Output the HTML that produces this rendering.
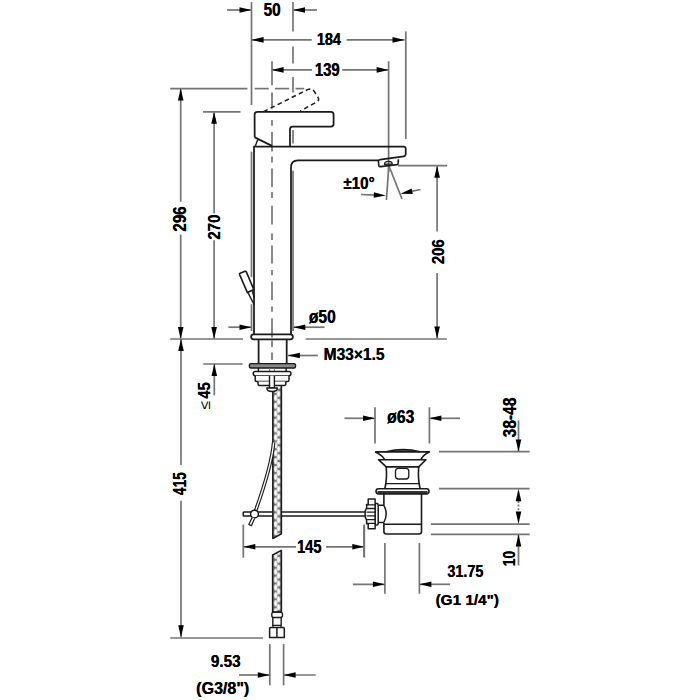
<!DOCTYPE html>
<html><head><meta charset="utf-8"><style>
html,body{margin:0;padding:0;background:#fff;}
svg{display:block;}
text{font-family:"Liberation Sans",sans-serif;fill:#000;}
</style></head><body>
<svg width="700" height="700" viewBox="0 0 700 700">
<rect width="700" height="700" fill="#fff"/>
<line x1="227" y1="10" x2="251.5" y2="10" stroke="#747474" stroke-width="1.7" />
<path d="M251.50,10.00 L239.50,12.80 L239.50,7.20 Z" fill="#000"/>
<line x1="317" y1="10" x2="293" y2="10" stroke="#747474" stroke-width="1.7" />
<path d="M293.00,10.00 L305.00,7.20 L305.00,12.80 Z" fill="#000"/>
<text transform="translate(263.76,15.82) scale(0.8669,1)" font-size="17.75" font-weight="bold">50</text>
<text transform="translate(263.51,15.82) scale(0.8669,1)" font-size="17.75" font-weight="bold">50</text>
<line x1="251.5" y1="2" x2="251.5" y2="105" stroke="#747474" stroke-width="1.7" />
<line x1="251.5" y1="151.7" x2="251.5" y2="277.2" stroke="#747474" stroke-width="1.7" />
<line x1="251.5" y1="304.2" x2="251.5" y2="331" stroke="#747474" stroke-width="1.7" />
<line x1="293" y1="2" x2="293" y2="31.4" stroke="#747474" stroke-width="1.7" />
<line x1="293" y1="46.4" x2="293" y2="63.6" stroke="#747474" stroke-width="1.7" />
<line x1="293" y1="77" x2="293" y2="92.5" stroke="#747474" stroke-width="1.7" />
<line x1="293" y1="130" x2="293" y2="143.6" stroke="#747474" stroke-width="1.7" />
<line x1="293" y1="170.7" x2="293" y2="331" stroke="#747474" stroke-width="1.7" />
<line x1="251.6" y1="39.9" x2="311.7" y2="39.9" stroke="#747474" stroke-width="1.7" />
<line x1="346.6" y1="39.9" x2="404.5" y2="39.9" stroke="#747474" stroke-width="1.7" />
<path d="M251.60,39.90 L263.60,37.10 L263.60,42.70 Z" fill="#000"/>
<path d="M404.50,39.90 L392.50,42.70 L392.50,37.10 Z" fill="#000"/>
<text transform="translate(316.95,45.23) scale(0.8370,1)" font-size="17.32" font-weight="bold">184</text>
<text transform="translate(316.70,45.23) scale(0.8370,1)" font-size="17.32" font-weight="bold">184</text>
<line x1="405.8" y1="31.4" x2="405.8" y2="139" stroke="#747474" stroke-width="1.7" />
<line x1="271.6" y1="69.9" x2="312" y2="69.9" stroke="#747474" stroke-width="1.7" />
<line x1="342.3" y1="69.9" x2="388.6" y2="69.9" stroke="#747474" stroke-width="1.7" />
<path d="M271.60,69.90 L283.60,67.10 L283.60,72.70 Z" fill="#000"/>
<path d="M388.60,69.90 L376.60,72.70 L376.60,67.10 Z" fill="#000"/>
<text transform="translate(314.93,75.82) scale(0.8399,1)" font-size="17.75" font-weight="bold">139</text>
<text transform="translate(314.68,75.82) scale(0.8399,1)" font-size="17.75" font-weight="bold">139</text>
<line x1="272" y1="61.2" x2="272" y2="85.2" stroke="#747474" stroke-width="1.7" />
<line x1="388.6" y1="61.2" x2="388.6" y2="172" stroke="#747474" stroke-width="1.7" />
<line x1="272" y1="92.5" x2="272" y2="108.5" stroke="#747474" stroke-width="1.7" />
<line x1="272" y1="120" x2="272" y2="125.7" stroke="#747474" stroke-width="1.7" />
<line x1="272" y1="132" x2="272" y2="151.5" stroke="#747474" stroke-width="1.7" />
<line x1="272" y1="156.5" x2="272" y2="162.5" stroke="#747474" stroke-width="1.7" />
<line x1="272" y1="168.6" x2="272" y2="187.1" stroke="#747474" stroke-width="1.7" />
<line x1="272" y1="192.1" x2="272" y2="197.9" stroke="#747474" stroke-width="1.7" />
<line x1="272" y1="205.7" x2="272" y2="224.5" stroke="#747474" stroke-width="1.7" />
<line x1="272" y1="233.6" x2="272" y2="240" stroke="#747474" stroke-width="1.7" />
<line x1="272" y1="245.4" x2="272" y2="263.6" stroke="#747474" stroke-width="1.7" />
<line x1="272" y1="270" x2="272" y2="275.3" stroke="#747474" stroke-width="1.7" />
<line x1="272" y1="281.8" x2="272" y2="300" stroke="#747474" stroke-width="1.7" />
<line x1="272" y1="306.4" x2="272" y2="311.7" stroke="#747474" stroke-width="1.7" />
<line x1="272" y1="318.2" x2="272" y2="337.4" stroke="#747474" stroke-width="1.7" />
<line x1="272" y1="340.6" x2="272" y2="347" stroke="#747474" stroke-width="1.7" />
<line x1="272" y1="352.4" x2="272" y2="360" stroke="#747474" stroke-width="1.7" />
<line x1="170.2" y1="88.6" x2="247.4" y2="88.6" stroke="#747474" stroke-width="1.7" />
<line x1="254.7" y1="88.6" x2="268.8" y2="88.6" stroke="#747474" stroke-width="1.7" />
<line x1="274.9" y1="88.6" x2="289.1" y2="88.6" stroke="#747474" stroke-width="1.7" />
<line x1="295.5" y1="88.6" x2="304.2" y2="88.6" stroke="#747474" stroke-width="1.7" />
<line x1="180.7" y1="88.6" x2="180.7" y2="201.8" stroke="#747474" stroke-width="1.7" />
<line x1="180.7" y1="234.6" x2="180.7" y2="339" stroke="#747474" stroke-width="1.7" />
<path d="M180.70,88.60 L183.50,100.60 L177.90,100.60 Z" fill="#000"/>
<path d="M180.70,339.00 L177.90,327.00 L183.50,327.00 Z" fill="#000"/>
<text transform="translate(186.03,231.53) rotate(-90) scale(0.8696,1)" font-size="17.46" font-weight="bold">296</text>
<text transform="translate(186.03,231.78) rotate(-90) scale(0.8696,1)" font-size="17.46" font-weight="bold">296</text>
<line x1="214.1" y1="111.8" x2="214.1" y2="213.3" stroke="#747474" stroke-width="1.7" />
<line x1="214.1" y1="240.2" x2="214.1" y2="339" stroke="#747474" stroke-width="1.7" />
<path d="M214.10,111.80 L216.90,123.80 L211.30,123.80 Z" fill="#000"/>
<path d="M214.10,339.00 L211.30,327.00 L216.90,327.00 Z" fill="#000"/>
<text transform="translate(220.13,239.53) rotate(-90) scale(0.8766,1)" font-size="17.18" font-weight="bold">270</text>
<text transform="translate(220.13,239.78) rotate(-90) scale(0.8766,1)" font-size="17.18" font-weight="bold">270</text>
<line x1="203" y1="111.8" x2="240.5" y2="111.8" stroke="#747474" stroke-width="1.7" />
<line x1="170.2" y1="339" x2="243" y2="339" stroke="#747474" stroke-width="1.7" />
<line x1="305.7" y1="339" x2="447" y2="339" stroke="#747474" stroke-width="1.7" />
<line x1="437.1" y1="165.7" x2="437.1" y2="231.4" stroke="#747474" stroke-width="1.7" />
<line x1="437.1" y1="272.9" x2="437.1" y2="338.6" stroke="#747474" stroke-width="1.7" />
<path d="M437.10,165.70 L439.90,177.70 L434.30,177.70 Z" fill="#000"/>
<path d="M437.10,338.60 L434.30,326.60 L439.90,326.60 Z" fill="#000"/>
<text transform="translate(443.83,264.02) rotate(-90) scale(0.8728,1)" font-size="17.04" font-weight="bold">206</text>
<text transform="translate(443.83,264.27) rotate(-90) scale(0.8728,1)" font-size="17.04" font-weight="bold">206</text>
<line x1="398" y1="165.6" x2="447" y2="165.6" stroke="#747474" stroke-width="1.7" />
<line x1="388.8" y1="166" x2="386.4" y2="200" stroke="#747474" stroke-width="1.7" />
<line x1="389" y1="166" x2="402" y2="199" stroke="#747474" stroke-width="1.7" />
<line x1="361" y1="194.5" x2="376" y2="195.1" stroke="#747474" stroke-width="1.7" />
<path d="M385.80,195.60 L373.69,197.86 L373.94,192.26 Z" fill="#000"/>
<line x1="420.5" y1="189.5" x2="410" y2="191.7" stroke="#747474" stroke-width="1.7" />
<path d="M400.50,193.80 L411.64,188.54 L412.82,194.02 Z" fill="#000"/>
<text transform="translate(343.52,188.73) scale(0.8964,1)" font-size="16.90" font-weight="bold">±10°</text>
<text transform="translate(343.27,188.73) scale(0.8964,1)" font-size="16.90" font-weight="bold">±10°</text>
<line x1="228.4" y1="327.2" x2="251.5" y2="327.2" stroke="#747474" stroke-width="1.7" />
<path d="M251.50,327.20 L239.50,330.00 L239.50,324.40 Z" fill="#000"/>
<line x1="324.6" y1="327.2" x2="293.3" y2="327.2" stroke="#747474" stroke-width="1.7" />
<path d="M293.30,327.20 L305.30,324.40 L305.30,330.00 Z" fill="#000"/>
<text transform="translate(309.07,322.95) scale(0.8896,1)" font-size="17.50" font-weight="bold">ø50</text>
<text transform="translate(308.82,322.95) scale(0.8896,1)" font-size="17.50" font-weight="bold">ø50</text>
<line x1="317.9" y1="355.5" x2="287.9" y2="355.5" stroke="#747474" stroke-width="1.7" />
<path d="M287.90,355.50 L299.90,352.70 L299.90,358.30 Z" fill="#000"/>
<text transform="translate(323.74,360.43) scale(0.9200,1)" font-size="16.90" font-weight="bold">M33×1.5</text>
<text transform="translate(323.49,360.43) scale(0.9200,1)" font-size="16.90" font-weight="bold">M33×1.5</text>
<line x1="203.3" y1="364" x2="242.7" y2="364" stroke="#747474" stroke-width="1.7" />
<line x1="214.3" y1="364" x2="214.3" y2="395.3" stroke="#747474" stroke-width="1.7" />
<path d="M214.30,364.00 L217.10,376.00 L211.50,376.00 Z" fill="#000"/>
<text transform="translate(209.93,398.47) rotate(-90) scale(0.8530,1)" font-size="17.14" font-weight="bold">45</text>
<text transform="translate(209.93,398.72) rotate(-90) scale(0.8530,1)" font-size="17.14" font-weight="bold">45</text>
<text transform="translate(210.10,409.87) rotate(-90) scale(1.0476,1)" font-size="15.00" font-weight="normal">≤</text>
<line x1="181" y1="339" x2="181" y2="465" stroke="#747474" stroke-width="1.7" />
<line x1="181" y1="500.7" x2="181" y2="637.3" stroke="#747474" stroke-width="1.7" />
<path d="M181.00,339.00 L183.80,351.00 L178.20,351.00 Z" fill="#000"/>
<path d="M181.00,637.30 L178.20,625.30 L183.80,625.30 Z" fill="#000"/>
<text transform="translate(185.93,494.95) rotate(-90) scale(0.7827,1)" font-size="17.43" font-weight="bold">415</text>
<text transform="translate(185.93,495.20) rotate(-90) scale(0.7827,1)" font-size="17.43" font-weight="bold">415</text>
<line x1="170.3" y1="638" x2="263" y2="638" stroke="#747474" stroke-width="1.7" />
<line x1="243.3" y1="546.8" x2="296" y2="546.8" stroke="#747474" stroke-width="1.7" />
<line x1="326" y1="546.8" x2="364.3" y2="546.8" stroke="#747474" stroke-width="1.7" />
<path d="M243.30,546.80 L255.30,544.00 L255.30,549.60 Z" fill="#000"/>
<path d="M364.30,546.80 L352.30,549.60 L352.30,544.00 Z" fill="#000"/>
<text transform="translate(297.25,552.72) scale(0.8122,1)" font-size="18.00" font-weight="bold">145</text>
<text transform="translate(297.00,552.72) scale(0.8122,1)" font-size="18.00" font-weight="bold">145</text>
<line x1="243.3" y1="524.5" x2="243.3" y2="557.7" stroke="#747474" stroke-width="1.7" />
<line x1="364.3" y1="524.5" x2="364.3" y2="557.7" stroke="#747474" stroke-width="1.7" />
<line x1="269.8" y1="644.1" x2="269.8" y2="685.3" stroke="#747474" stroke-width="1.7" />
<line x1="283.6" y1="644.1" x2="283.6" y2="685.3" stroke="#747474" stroke-width="1.7" />
<line x1="239" y1="675" x2="269.8" y2="675" stroke="#747474" stroke-width="1.7" />
<path d="M269.80,675.00 L257.80,677.80 L257.80,672.20 Z" fill="#000"/>
<line x1="315.7" y1="675" x2="283.6" y2="675" stroke="#747474" stroke-width="1.7" />
<path d="M283.60,675.00 L295.60,672.20 L295.60,677.80 Z" fill="#000"/>
<text transform="translate(211.02,667.33) scale(0.9017,1)" font-size="16.90" font-weight="bold">9.53</text>
<text transform="translate(210.77,667.33) scale(0.9017,1)" font-size="16.90" font-weight="bold">9.53</text>
<text transform="translate(196.32,694.15) scale(1.0054,1)" font-size="15.96" font-weight="bold">(G3/8&quot;)</text>
<text transform="translate(196.07,694.15) scale(1.0054,1)" font-size="15.96" font-weight="bold">(G3/8&quot;)</text>
<line x1="344.5" y1="418.3" x2="375" y2="418.3" stroke="#747474" stroke-width="1.7" />
<path d="M375.00,418.30 L363.00,421.10 L363.00,415.50 Z" fill="#000"/>
<line x1="460" y1="418.3" x2="429.4" y2="418.3" stroke="#747474" stroke-width="1.7" />
<path d="M429.40,418.30 L441.40,415.50 L441.40,421.10 Z" fill="#000"/>
<line x1="375" y1="407.3" x2="375" y2="443.5" stroke="#747474" stroke-width="1.7" />
<line x1="429.4" y1="407.3" x2="429.4" y2="443.5" stroke="#747474" stroke-width="1.7" />
<text transform="translate(387.37,422.95) scale(0.8946,1)" font-size="17.50" font-weight="bold">ø63</text>
<text transform="translate(387.12,422.95) scale(0.8946,1)" font-size="17.50" font-weight="bold">ø63</text>
<line x1="438.9" y1="451.6" x2="529.7" y2="451.6" stroke="#747474" stroke-width="1.7" />
<line x1="438.9" y1="488.7" x2="529.7" y2="488.7" stroke="#747474" stroke-width="1.7" />
<line x1="430.9" y1="524.1" x2="529.7" y2="524.1" stroke="#747474" stroke-width="1.7" />
<line x1="430.9" y1="534.4" x2="529.7" y2="534.4" stroke="#747474" stroke-width="1.7" />
<line x1="518.5" y1="420.5" x2="518.5" y2="451.3" stroke="#747474" stroke-width="1.7" />
<path d="M518.50,451.50 L515.70,439.50 L521.30,439.50 Z" fill="#000"/>
<text transform="translate(515.82,437.19) rotate(-90) scale(0.8486,1)" font-size="18.31" font-weight="bold">38-48</text>
<text transform="translate(515.82,437.44) rotate(-90) scale(0.8486,1)" font-size="18.31" font-weight="bold">38-48</text>
<line x1="518.5" y1="501" x2="518.5" y2="511.5" stroke="#747474" stroke-width="1.7" stroke-dasharray="2 1.6"/>
<path d="M518.50,488.70 L521.30,501.20 L515.70,501.20 Z" fill="#000"/>
<path d="M518.50,524.10 L515.70,511.60 L521.30,511.60 Z" fill="#000"/>
<line x1="518.5" y1="534.4" x2="518.5" y2="565.5" stroke="#747474" stroke-width="1.7" />
<path d="M518.50,534.40 L521.30,546.40 L515.70,546.40 Z" fill="#000"/>
<text transform="translate(514.73,566.22) rotate(-90) scale(0.8388,1)" font-size="16.76" font-weight="bold">10</text>
<text transform="translate(514.73,566.47) rotate(-90) scale(0.8388,1)" font-size="16.76" font-weight="bold">10</text>
<line x1="384.9" y1="542.9" x2="384.9" y2="593.7" stroke="#747474" stroke-width="1.7" />
<line x1="419.4" y1="542.9" x2="419.4" y2="593.7" stroke="#747474" stroke-width="1.7" />
<line x1="352.9" y1="584.3" x2="384.9" y2="584.3" stroke="#747474" stroke-width="1.7" />
<path d="M384.90,584.30 L372.90,587.10 L372.90,581.50 Z" fill="#000"/>
<line x1="450" y1="584.3" x2="419.4" y2="584.3" stroke="#747474" stroke-width="1.7" />
<path d="M419.40,584.30 L431.40,581.50 L431.40,587.10 Z" fill="#000"/>
<text transform="translate(447.54,577.13) scale(0.8659,1)" font-size="16.62" font-weight="bold">31.75</text>
<text transform="translate(447.29,577.13) scale(0.8659,1)" font-size="16.62" font-weight="bold">31.75</text>
<text transform="translate(435.76,605.16) scale(0.9901,1)" font-size="15.43" font-weight="bold">(G1 1/4&quot;)</text>
<text transform="translate(435.51,605.16) scale(0.9901,1)" font-size="15.43" font-weight="bold">(G1 1/4&quot;)</text>
<line x1="364" y1="525" x2="364" y2="557" stroke="#747474" stroke-width="1.7" />
<path d="M254.7,137.4 L254.6,114.5 Q254.6,111.8 257.4,111.8 L331,111.8 Q333.6,111.8 333.6,114.5 L333.6,124 Q333.6,126.6 331,126.6 L292.6,126.6 Q290,126.6 290,129.2 L290,146.6" stroke="#1a1a1a" stroke-width="1.75" fill="none" stroke-linejoin="round" />
<path d="M254.7,137.4 L272,145.9" stroke="#1a1a1a" stroke-width="1.75" fill="none" stroke-linejoin="round" />
<path d="M257.7,139.7 L255.1,146.6" stroke="#1a1a1a" stroke-width="1.4" fill="none" stroke-linejoin="round" />
<path d="M254,334.3 L254,146.5 L403.6,146.5 Q405.7,146.5 405.7,148.6 L405.7,154.3 Q405.7,156 403.8,156.3 L380,159.7 L378.4,160.3 L298,160.3 Q291,160.3 291,167.3 L291,334.3" stroke="#1a1a1a" stroke-width="1.75" fill="none" stroke-linejoin="round" />
<path d="M378.4,160.3 L378.7,165 Q378.8,166.8 380.6,166.6 L397,164.6 Q398.2,164.4 398.2,163.2 L398.4,159.3" stroke="#1a1a1a" stroke-width="1.6" fill="none" stroke-linejoin="round" />
<path d="M384.5,164.4 Q384.5,161.4 388.3,161.4 Q392.2,161.4 392.2,164 Z" stroke="#1a1a1a" stroke-width="1.3" fill="none" stroke-linejoin="round" />
<path d="M263.5,111.7 L307.6,89.6 Q311.6,87.6 314,91.2 L317.8,96.8 Q320,100.4 316.4,102 L300,111.3" stroke="#1a1a1a" stroke-width="1.5" fill="none" stroke-linejoin="round" stroke-dasharray="4.6 3.3"/>
<path d="M239.6,274.6 Q239.2,273.6 240.2,273.2 L245,271.3 Q245.9,271 246.3,271.9 L253.9,289.6 L247.4,292.6 Z" stroke="#1a1a1a" stroke-width="1.6" fill="#fff" stroke-linejoin="round" />
<path d="M247.8,292.4 L254.2,304.8 M252.3,291.2 L254.2,297.5" stroke="#1a1a1a" stroke-width="1.4" fill="none" stroke-linejoin="round" />
<path d="M253.6,334.3 L290.4,334.3 Q292.9,334.3 292.9,336.8 Q292.9,339.3 290.4,339.3 L253.6,339.3 Q251.1,339.3 251.1,336.8 Q251.1,334.3 253.6,334.3 Z" stroke="#1a1a1a" stroke-width="1.75" fill="none" stroke-linejoin="round" />
<path d="M258.6,339.3 L258.6,363.6 M286.7,339.3 L286.7,363.6" stroke="#1a1a1a" stroke-width="1.75" fill="none" stroke-linejoin="round" />
<path d="M251,363.6 L294,363.6 Q295.6,363.6 295.6,365.8 Q295.6,368 294,368 L251,368 Q249.3,368 249.3,365.8 Q249.3,363.6 251,363.6 Z" stroke="#1a1a1a" stroke-width="1.3" fill="#888" stroke-linejoin="round" />
<path d="M258.4,368 L258.4,371.4 M286.2,368 L286.2,371.4" stroke="#1a1a1a" stroke-width="1.5" fill="none" stroke-linejoin="round" />
<path d="M269.6,368 L269.6,371.4 M274.3,368 L274.3,371.4" stroke="#777" stroke-width="1.1" fill="none" stroke-linejoin="round" />
<path d="M255.3,371.4 L288.9,371.4 Q291,371.4 291,373.55 Q291,375.7 288.9,375.7 L255.3,375.7 Q253.2,375.7 253.2,373.55 Q253.2,371.4 255.3,371.4 Z" stroke="#1a1a1a" stroke-width="1.5" fill="#fff" stroke-linejoin="round" />
<path d="M255.2,375.7 L255.2,380 Q255.2,381.6 256.8,381.6 L287.4,381.6 Q289,381.6 289,380 L289,375.7" stroke="#1a1a1a" stroke-width="1.5" fill="#fff" stroke-linejoin="round" />
<path d="M258,381.6 L258,384 Q258,385.5 259.5,385.5 L284.3,385.5 Q285.8,385.5 285.8,384 L285.8,381.6" stroke="#1a1a1a" stroke-width="1.5" fill="#fff" stroke-linejoin="round" />
<path d="M269.5,375.7 L269.5,388 L274.4,388 L274.4,375.7" stroke="#1a1a1a" stroke-width="1.4" fill="#fff" stroke-linejoin="round" />
<defs><pattern id="braid" patternUnits="userSpaceOnUse" x="272.7" y="386" width="8.8" height="7.9"><rect width="8.8" height="7.9" fill="#777"/><ellipse cx="2.9" cy="3.95" rx="1.65" ry="2.9" fill="#fff"/><ellipse cx="5.9" cy="0" rx="1.65" ry="2.9" fill="#fff"/><ellipse cx="5.9" cy="7.9" rx="1.65" ry="2.9" fill="#fff"/></pattern></defs>
<path d="M365.3,511.9 L244,511.9 Q243.2,511.9 243.2,512.7 L243.2,515.3 Q243.2,516.1 244,516.1 L365.3,516.1" stroke="#1a1a1a" stroke-width="1.5" fill="none" stroke-linejoin="round" />
<path d="M272.8,391 L272.8,538.5 L281.4,533.8 L281.4,385.9" stroke="#1a1a1a" stroke-width="1.5" fill="url(#braid)" stroke-linejoin="round" />
<path d="M266.8,388 L277.4,388 Q277.4,391.5 272.1,391.5 Q266.8,391.5 266.8,388 Z" stroke="#1a1a1a" stroke-width="1.4" fill="#fff" stroke-linejoin="round" />
<path d="M272.6,555 L281.4,550.3 L281.4,612.1 L272.6,612.1 Z" stroke="#1a1a1a" stroke-width="1.5" fill="url(#braid)" stroke-linejoin="round" />
<path d="M273.6,442.6 C272,462 263,490 255.5,511" stroke="#1a1a1a" stroke-width="3.6" fill="none" stroke-linejoin="round" />
<path d="M273.6,442.6 C272,462 263,490 255.5,511" stroke="#fff" stroke-width="1.3" fill="none" stroke-linejoin="round" />
<circle cx="254.5" cy="514.1" r="3.9" fill="#fff" stroke="#111" stroke-width="1.4"/>
<path d="M252.3,517.2 L248.8,524.4 L251.4,525.8 L254.6,518.4" stroke="#1a1a1a" stroke-width="1.2" fill="#fff" stroke-linejoin="round" />
<path d="M273.6,612.1 L280.4,612.1 Q282.5,612.1 282.5,614.2 L282.5,615.4 Q282.5,617.5 280.4,617.5 L273.6,617.5 Q271.8,617.5 271.8,615.4 L271.8,614.2 Q271.8,612.1 273.6,612.1 Z" stroke="#1a1a1a" stroke-width="1.4" fill="none" stroke-linejoin="round" />
<path d="M272.8,617.5 L272.8,625.4 L281.2,625.4 L281.2,617.5" stroke="#1a1a1a" stroke-width="1.4" fill="none" stroke-linejoin="round" />
<path d="M273,625.4 L273,627.5 M281,625.4 L281,627.5" stroke="#1a1a1a" stroke-width="1.2" fill="none" stroke-linejoin="round" />
<path d="M270.8,627.5 L283.2,627.5 Q284.3,627.5 284.3,628.6 L284.3,637.5 L269.6,637.5 L269.6,628.6 Q269.6,627.5 270.8,627.5 Z M276.9,627.5 L276.9,637.5" stroke="#1a1a1a" stroke-width="1.5" fill="none" stroke-linejoin="round" />
<path d="M386.2,451.8 Q403,447.4 420.1,451.8" stroke="#1a1a1a" stroke-width="1.5" fill="#555" stroke-linejoin="round" />
<path d="M375.1,451.9 L429.4,451.9 Q424,454 421.1,459 M375.1,451.9 Q381,454 384.4,459" stroke="#1a1a1a" stroke-width="1.6" fill="none" stroke-linejoin="round" />
<path d="M378.5,459.7 L425.9,459.7 L418.7,466.9 L386.2,466.9 Z" stroke="#1a1a1a" stroke-width="1.6" fill="none" stroke-linejoin="round" />
<path d="M386.2,466.9 Q387.2,479 384.9,488.5 M418.7,466.9 Q417.7,479 420.1,488.5" stroke="#1a1a1a" stroke-width="1.6" fill="none" stroke-linejoin="round" />
<path d="M385.2,483.6 L420,483.6" stroke="#1a1a1a" stroke-width="1.4" fill="none" stroke-linejoin="round" />
<path d="M398.5,468.3 L405.8,468.3 Q408.8,468.3 408.8,471.3 L408.8,476 Q408.8,479 405.8,479 L398.5,479 Q395.5,479 395.5,476 L395.5,471.3 Q395.5,468.3 398.5,468.3 Z" stroke="#1a1a1a" stroke-width="1.3" fill="none" stroke-linejoin="round" />
<path d="M378.6,488.7 L426.4,488.7 Q429,488.7 429,491.3 Q429,493.9 426.4,493.9 L378.6,493.9 Q376,493.9 376,491.3 Q376,488.7 378.6,488.7 Z" stroke="#1a1a1a" stroke-width="1.6" fill="none" stroke-linejoin="round" />
<path d="M377.5,492.2 L427.5,492.2" stroke="#333" stroke-width="2.2" fill="none" stroke-linejoin="round" />
<path d="M383.9,494 L383.9,505 M383.9,523 L383.9,531.5 Q383.9,534 386.5,534 L419,534 Q421.5,534 421.5,531.5 L421.5,494" stroke="#1a1a1a" stroke-width="1.6" fill="none" stroke-linejoin="round" />
<path d="M384,524.3 L421.4,524.3" stroke="#1a1a1a" stroke-width="1.4" fill="none" stroke-linejoin="round" />
<path d="M378.2,505.3 L383.8,505.3 Q388.6,514 383.8,522.5 L378.2,522.5" stroke="#1a1a1a" stroke-width="1.5" fill="#fff" stroke-linejoin="round" />
<path d="M375.1,503.5 L376.8,503.5 Q378.2,503.5 378.2,505 L378.2,523.6 Q378.2,525.1 376.8,525.1 L375.1,525.1 Z" stroke="#1a1a1a" stroke-width="1.5" fill="#fff" stroke-linejoin="round" />
<path d="M368.2,499 L375.1,499 L375.1,528.8 L368.2,528.8 L368.2,523.8 L366.6,523.8 L366.6,520 L365.2,517.2 L365.2,510.8 L366.6,508 L366.6,504.5 L368.2,504.5 Z" stroke="#1a1a1a" stroke-width="1.5" fill="#fff" stroke-linejoin="round" />
<path d="M366.6,504.8 L375.1,504.8 M366.6,508.5 L375.1,508.5 M366.6,512.2 L375.1,512.2 M366.6,515.9 L375.1,515.9 M366.6,519.6 L375.1,519.6 M366.6,523.3 L375.1,523.3" stroke="#1a1a1a" stroke-width="1.3" fill="none" stroke-linejoin="round" />
</svg></body></html>
